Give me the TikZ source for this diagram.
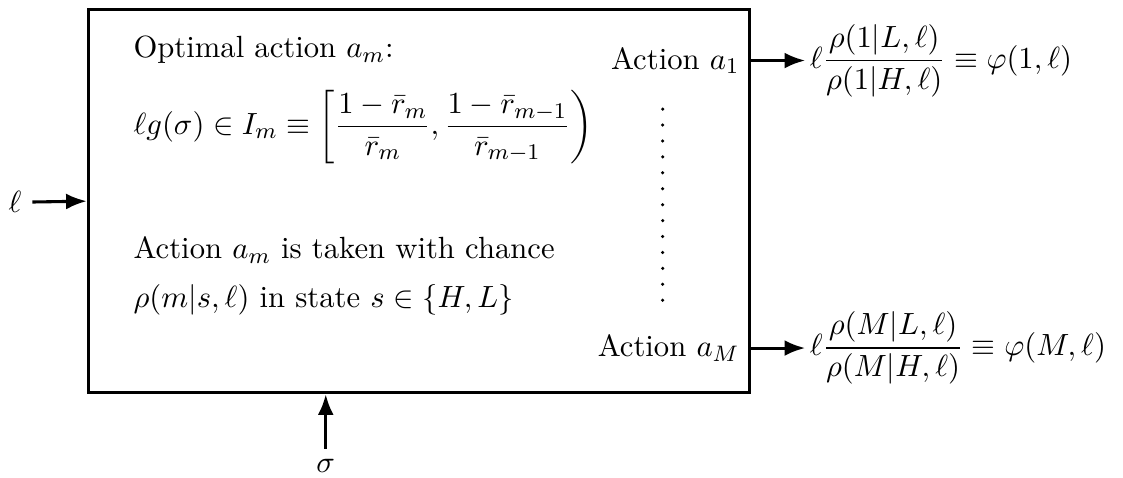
\documentclass[tikz,border=0pt,11pt]{standalone}
\usepackage{amsmath}
\usetikzlibrary{arrows.meta,positioning}
\tikzset{
  txt/.style={anchor=west, inner sep=0pt},
  acttxt/.style={anchor=east, inner sep=0pt},
  outtxt/.style={anchor=west, inner sep=1.5pt},
  arr/.style={-{Latex[length=2.6mm,width=2mm]}, line width=1.1pt},
}
\begin{document}
\begin{tikzpicture}[scale=1, every node/.style={scale=1}]
        \useasboundingbox (-1.09,-1.04) rectangle (13.01,4.95);
        \node[draw, line width=1.1pt, minimum width=8.30cm, minimum height=4.81cm, anchor=south west, inner sep=0pt] (box) at (0,0) {};
        % text inside the box
        \node[txt] (opt) at (0.58,4.32) {Optimal action $a_m$:};
        \node[txt] (intv) at (0.58,3.36) {$\ell g(\sigma)\in I_m \equiv \left[\dfrac{1-\bar r_m}{\bar r_m}, \dfrac{1-\bar r_{m-1}}{\bar r_{m-1}}\right)$};
        \node[txt] (chance) at (0.58,1.81) {Action $a_m$ is taken with chance};
        \node[txt] (state) at (0.58,1.18) {$\rho(m|s,\ell)$ in state $s\in\{H,L\}$};
        \node[acttxt] (act1) at (8.20,4.19) {Action $a_1$};
        \node[acttxt] (actM) at (8.20,0.58) {Action $a_M$};
        \foreach \i in {0,...,12}
            \fill (7.23,3.58-\i*0.2) circle (0.022);
        % inputs
        \node (ell) at (-0.90,2.41) {$\ell$};
        \node (sig) at (3.00,-0.90) {$\sigma$};
        \draw[arr] (ell) -- (box.west);
        \draw[arr] (sig) -- (sig |- box.south);
        % outputs
        \node[outtxt] (phi1) at (9.02,4.19) {$\ell\dfrac{\rho(1|L,\ell)}{\rho(1|H,\ell)} \equiv \varphi(1,\ell)$};
        \node[outtxt] (phiM) at (9.02,0.58) {$\ell\dfrac{\rho(M|L,\ell)}{\rho(M|H,\ell)} \equiv \varphi(M,\ell)$};
        \draw[arr] (box.east |- act1) -- (phi1.west);
        \draw[arr] (box.east |- actM) -- (phiM.west);
\end{tikzpicture}
\end{document}
